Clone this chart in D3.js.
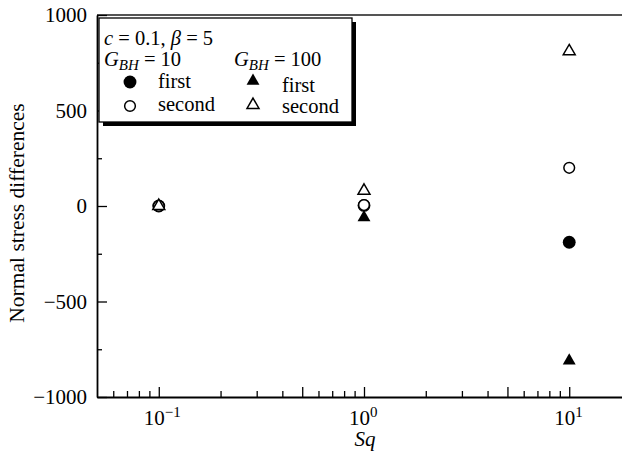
<!DOCTYPE html>
<html>
<head>
<meta charset="utf-8">
<script src="https://cdn.jsdelivr.net/npm/d3@7/dist/d3.min.js"></script>
<style>
  html, body { margin: 0; padding: 0; background: #fff; }
  svg { display: block; }
</style>
</head>
<body>
<svg id="chart" width="622" height="455"></svg>
<script>
// ---- data ----
const sq = [0.1, 1, 10];
const firstG10 = [0, 3, -190];
const secondG10 = [0, 5, 200];
const firstG100 = [0, -60, -810];
const secondG100 = [0, 80, 810];

const xMajor = [0.1, 1, 10];
const xExp = ["\u22121", "0", "1"];
const xMinor = [0.06, 0.07, 0.08, 0.09, 0.2, 0.3, 0.4, 0.6, 0.7, 0.8, 0.9, 2, 3, 4, 6, 7, 8, 9];
const xMid = [0.5, 5];
const yMajor = [-1000, -500, 0, 500, 1000];
const yMinor = [-750, -250, 250, 750];

const FONT = "'Liberation Serif', 'Times New Roman', Times, serif";

// ---- layout ----
const svg = d3.select("#chart");
const L = 97, R = 631, T = 15, B = 397;
const x = d3.scaleLog().domain([0.05, 20]).range([L, R]);
const y = d3.scaleLinear().domain([-1000, 1000]).range([B, T]);

function txt(sel) { return sel.attr("font-family", FONT).style("font-family", FONT).attr("fill", "#000"); }

// top frame line
svg.append("line").attr("x1", L).attr("x2", R).attr("y1", T).attr("y2", T)
  .attr("stroke", "#555").attr("stroke-width", 2);

// x axis
const gx = svg.append("g").attr("transform", `translate(0,${B})`);
gx.call(d3.axisBottom(x).tickValues(xMajor.concat(xMid)).tickSize(-10).tickSizeOuter(0).tickFormat(""));
const gxm = svg.append("g").attr("transform", `translate(0,${B})`);
gxm.call(d3.axisBottom(x).tickValues(xMinor).tickSize(-6).tickSizeOuter(0).tickFormat(""));
gxm.select(".domain").remove();

// y axis
const fmtY = d => (d < 0 ? "\u2212" : "") + Math.abs(d);
const gy = svg.append("g").attr("transform", `translate(${L},0)`);
gy.call(d3.axisLeft(y).tickValues(yMajor).tickSize(-10).tickSizeOuter(0).tickPadding(10).tickFormat(fmtY));
const gym = svg.append("g").attr("transform", `translate(${L},0)`);
gym.call(d3.axisLeft(y).tickValues(yMinor).tickSize(-5).tickSizeOuter(0).tickFormat(""));
gym.select(".domain").remove();

svg.selectAll(".domain").attr("stroke", "#000").attr("stroke-width", 1.8);
svg.selectAll(".tick line").attr("stroke", "#000").attr("stroke-width", 1.3);
txt(gy.selectAll(".tick text")).style("font-size", "21px");

// x tick labels with superscripts
xMajor.forEach((v, i) => {
  const t = txt(svg.append("text")).attr("x", x(v) - 15).attr("y", 425).style("font-size", "21px");
  t.append("tspan").text("10");
  t.append("tspan").attr("dy", -8).style("font-size", "15px").text(xExp[i]);
});

// axis titles
txt(svg.append("text")).attr("x", x(1) + 1).attr("y", 446).attr("text-anchor", "middle")
  .style("font-size", "21px").style("font-style", "italic").text("Sq");
txt(svg.append("text")).attr("transform", `translate(24,213) rotate(-90)`)
  .attr("text-anchor", "middle").style("font-size", "21.5px").text("Normal stress differences");

// ---- markers ----
const circF = d3.symbol().type(d3.symbolCircle).size(130)();
const circO = d3.symbol().type(d3.symbolCircle).size(90)();
const triF = d3.symbol().type(d3.symbolTriangle).size(72)();
const triO = d3.symbol().type(d3.symbolTriangle).size(62)();

function plot(vals, path, open) {
  svg.append("g").selectAll("path").data(vals).join("path")
    .attr("d", path)
    .attr("transform", (d, i) => `translate(${x(sq[i])},${y(d)})`)
    .attr("fill", open ? "#fff" : "#000")
    .attr("stroke", "#000")
    .attr("stroke-width", open ? 1.5 : 0);
}
plot(firstG10, circF, false);
plot(firstG100, triF, false);
plot(secondG10, circO, true);
plot(secondG100, triO, true);

// ---- legend ----
const LF = "20.5px";
const lg = svg.append("g");
lg.append("rect").attr("x", 103).attr("y", 22).attr("width", 253).attr("height", 104).attr("fill", "#000");
lg.append("rect").attr("x", 99).attr("y", 18).attr("width", 253).attr("height", 104)
  .attr("fill", "#fff").attr("stroke", "#000").attr("stroke-width", 1.3);

const t1 = txt(lg.append("text")).attr("x", 104).attr("y", 45).style("font-size", LF);
t1.append("tspan").style("font-style", "italic").text("c");
t1.append("tspan").text(" = 0.1, ");
t1.append("tspan").style("font-style", "italic").text("\u03B2");
t1.append("tspan").text(" = 5");

function gbh(xp, yp, val) {
  const t = txt(lg.append("text")).attr("x", xp).attr("y", yp).style("font-size", LF);
  t.append("tspan").style("font-style", "italic").text("G");
  t.append("tspan").attr("dy", 4).style("font-style", "italic").style("font-size", "15px").text("BH");
  t.append("tspan").attr("dy", -4).text(" = " + val);
}
gbh(104, 66, "10");
gbh(234, 66, "100");

lg.append("path").attr("d", circF).attr("transform", "translate(130,82)").attr("fill", "#000");
lg.append("path").attr("d", circO).attr("transform", "translate(130,106)").attr("fill", "#fff").attr("stroke", "#000").attr("stroke-width", 1.5);
lg.append("path").attr("d", triF).attr("transform", "translate(253,81)").attr("fill", "#000");
lg.append("path").attr("d", triO).attr("transform", "translate(253,105)").attr("fill", "#fff").attr("stroke", "#000").attr("stroke-width", 1.5);

txt(lg.append("text")).attr("x", 158).attr("y", 88).style("font-size", LF).text("first");
txt(lg.append("text")).attr("x", 158).attr("y", 111).style("font-size", LF).text("second");
txt(lg.append("text")).attr("x", 282).attr("y", 92).style("font-size", LF).text("first");
txt(lg.append("text")).attr("x", 282).attr("y", 113).style("font-size", LF).text("second");
</script>
</body>
</html>
